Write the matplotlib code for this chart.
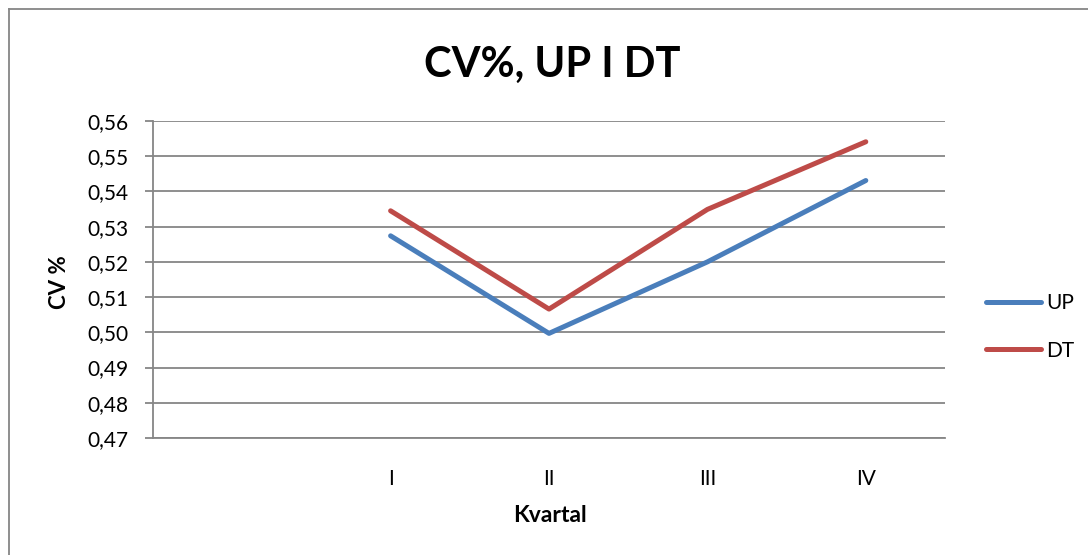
import matplotlib.pyplot as plt
from matplotlib.lines import Line2D

# dane
kvartali = ['', 'I', 'II', 'III', 'IV']
up = [0.5274, 0.4997, 0.5200, 0.5431]
dt = [0.5345, 0.5066, 0.5349, 0.5541]
y_ticks = [0.47, 0.48, 0.49, 0.50, 0.51, 0.52, 0.53, 0.54, 0.55, 0.56]

plt.rcParams['font.family'] = ['Lato', 'DejaVu Sans']

W, H = 1088, 555
fig = plt.figure(figsize=(W / 100, H / 100), dpi=100)
ax = fig.add_axes([153 / W, 1 - 438 / H, (945 - 153) / W, (438 - 121) / H])

x = list(range(1, len(kvartali)))
ax.plot(x, up, color='#4A7EBB', lw=3.6, solid_capstyle='round', solid_joinstyle='round', label='UP')
ax.plot(x, dt, color='#BE4B48', lw=3.6, solid_capstyle='round', solid_joinstyle='round', label='DT')

ax.set_xlim(-0.5, len(kvartali) - 0.5)
ax.set_xticks(range(len(kvartali)))
ax.set_xticklabels(kvartali, fontsize=15)
ax.tick_params(axis='x', length=0, pad=22)

ax.set_ylim(0.47, 0.56)
ax.set_yticks(y_ticks)
ax.set_yticklabels([f'{v:.2f}'.replace('.', ',') for v in y_ticks], fontsize=15)
ax.tick_params(axis='y', length=6, width=1.3, color='#868686', pad=12, direction='out')

ax.grid(axis='y', color='#868686', lw=1.3)
ax.set_axisbelow(True)
for s in ['top', 'right']:
    ax.spines[s].set_visible(False)
for s in ['left', 'bottom']:
    ax.spines[s].set_color('#868686')
    ax.spines[s].set_linewidth(1.3)

fig.text(552 / W, 1 - 65 / H, 'CV%, UP I DT', fontsize=30, fontweight='bold', ha='center', va='center')
fig.text(550 / W, 1 - 515 / H, 'Kvartal', fontsize=16.5, fontweight='bold', ha='center', va='center')
fig.text(60 / W, 1 - 282 / H, 'CV %', fontsize=16, fontweight='bold', rotation=90, ha='center', va='center')

# legenda
leg = ax.legend(loc='center left', bbox_to_anchor=(986 / W, 1 - 327 / H), bbox_transform=fig.transFigure,
                frameon=False, fontsize=15, borderpad=0, borderaxespad=0,
                handlelength=2.65, handletextpad=0.25, labelspacing=1.3)

# okvir grafikona
fig.add_artist(Line2D([9 / W, 9 / W], [0, 1 - 9 / H], color='#868686', lw=1.3))
fig.add_artist(Line2D([9 / W, 1], [1 - 9 / H, 1 - 9 / H], color='#868686', lw=1.3))

fig.savefig('out.png', dpi=100)
